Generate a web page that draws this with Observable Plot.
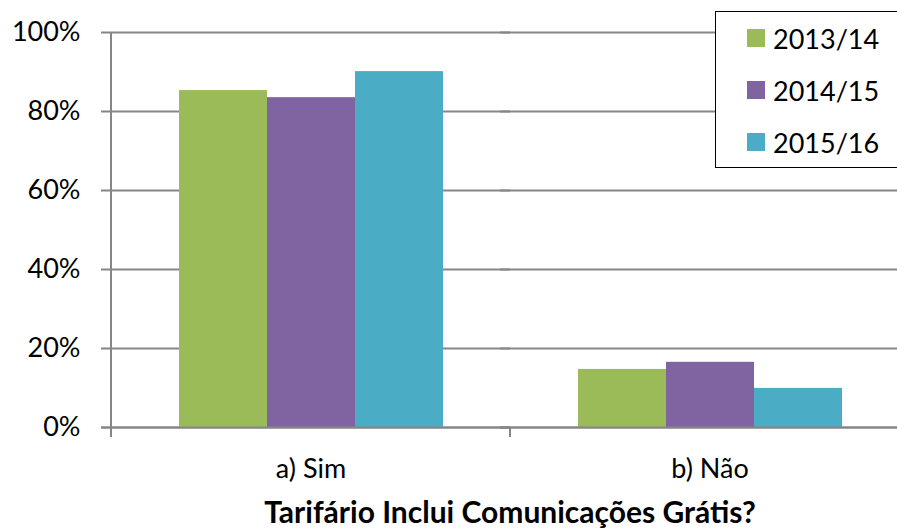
<!DOCTYPE html>
<html>
<head>
<meta charset="utf-8">
<script src="https://cdn.jsdelivr.net/npm/d3@7"></script>
<script src="https://cdn.jsdelivr.net/npm/@observablehq/plot@0.6"></script>
<style>
  html, body { margin: 0; padding: 0; background: #fff; overflow: hidden; width: 897px; height: 529px; }
  #wrap { position: relative; width: 897px; height: 529px; overflow: hidden; font-family: Lato, "DejaVu Sans", sans-serif; }
  #chart svg { max-width: none; display: block; }
  #title { position: absolute; left: 510px; top: 494px; transform: translateX(-50%); white-space: nowrap;
           font-weight: bold; font-size: 30px; line-height: 34px; color: #000; }
  #legend { position: absolute; left: 715px; top: 11px; width: 400px; height: 155px;
            border-top: 1.5px solid #000; border-left: 1.5px solid #000; border-bottom: 1.5px solid #000; border-right: none;
            background: #fff; box-sizing: content-box; }
  .item { position: absolute; left: 31px; height: 52px; display: flex; align-items: center; font-size: 27px; color: #000; white-space: nowrap; }
  .sw { width: 18px; height: 18px; margin-right: 8px; }
</style>
</head>
<body>
<div id="wrap">
  <div id="chart"></div>
  <div id="title"></div>
  <div id="legend"></div>
</div>
<script>
const categories = ["a) Sim", "b) Não"];
const seasons = ["2013/14", "2014/15", "2015/16"];
const simValues = [0.853, 0.835, 0.901];
const naoValues = [0.147, 0.165, 0.099];
const colors = ["#9BBB59", "#8064A2", "#4BACC6"];
const yTicks = [0, 0.2, 0.4, 0.6, 0.8, 1];
const axisTitle = "Tarifário Inclui Comunicações Grátis?";

const series = [simValues, naoValues];
const rows = categories.flatMap((c, i) => seasons.map((s, j) => ({cat: c, season: s, value: series[i][j]})));

const grid = "#868686";

const plot = Plot.plot({
  width: 897,
  height: 486,
  marginLeft: 111,
  marginRight: -12,
  marginTop: 32,
  marginBottom: 59,
  facet: {data: rows, x: "cat"},
  fx: {domain: categories, paddingInner: 0, paddingOuter: 0, axis: "bottom", label: null, tickSize: 0, tickPadding: 31},
  x: {domain: seasons, paddingInner: 0, paddingOuter: 0.75, axis: null},
  y: {domain: [0, 1], ticks: yTicks, tickFormat: d3.format(".0%"), tickSize: 0, tickPadding: 31, label: null},
  color: {domain: seasons, range: colors},
  style: {fontFamily: "Lato, 'DejaVu Sans', sans-serif", fontSize: "27px", color: "#000", background: "#fff", overflow: "hidden"},
  marks: [
    Plot.ruleY(yTicks, {stroke: grid, strokeWidth: 2, insetLeft: -10}),
    Plot.barY(rows, {x: "season", y: "value", fill: "season"}),
    Plot.ruleY([0], {stroke: grid, strokeWidth: 2, insetLeft: -10})
  ]
});
document.getElementById("chart").appendChild(plot);

// y-axis line and category boundary ticks, positioned through Plot's scales
const fxS = plot.scale("fx"), yS = plot.scale("y");
const svg = d3.select(plot);
const y0 = yS.apply(0), y1 = yS.apply(1);
const left = fxS.apply(categories[0]);
const g = svg.append("g").attr("stroke", grid).attr("stroke-width", 2);
g.append("line").attr("x1", left).attr("x2", left).attr("y1", y1).attr("y2", y0 + 10);
categories.forEach((c, i) => {
  if (i === 0) return;
  const x = fxS.apply(c);
  g.append("line").attr("x1", x).attr("x2", x).attr("y1", y0).attr("y2", y0 + 10);
});

document.getElementById("title").textContent = axisTitle;

const legend = document.getElementById("legend");
seasons.forEach((s, i) => {
  const it = document.createElement("div");
  it.className = "item";
  it.style.top = (i * 52) + "px";
  const sw = document.createElement("div");
  sw.className = "sw";
  sw.style.background = colors[i];
  const t = document.createElement("span");
  t.textContent = s;
  it.appendChild(sw); it.appendChild(t);
  legend.appendChild(it);
});
</script>
</body>
</html>
